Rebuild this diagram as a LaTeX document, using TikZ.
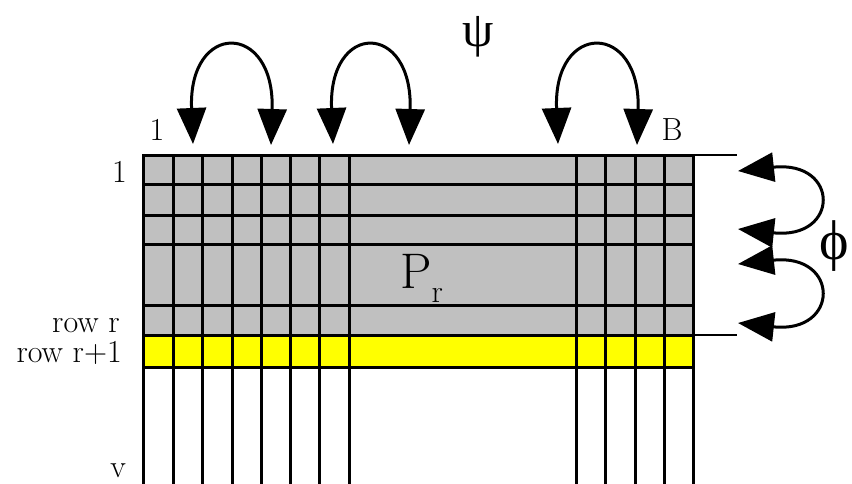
\documentclass[tikz,border=0pt]{standalone}
\usepackage{fontspec}
\newfontfamily\grk{Liberation Serif}
\usetikzlibrary{arrows.meta}
\definecolor{cellgray}{HTML}{C0C0C0}
\definecolor{rowyellow}{HTML}{FFFF00}
\tikzset{
  gridline/.style={line width=3pt, line cap=rect},
  extline/.style={line width=2pt},
  swaparrow/.style={line width=3pt, {Triangle[length=36pt,width=29pt]}-{Triangle[length=36pt,width=29pt]}},
  lab/.style={font=\fontsize{32}{38}\selectfont, inner sep=0pt},
  greek/.style={font=\grk\fontsize{50}{56}\selectfont, inner sep=0pt}
}
\begin{document}
\begin{tikzpicture}[x=1pt,y=-1pt]
\useasboundingbox (0,0) rectangle (852,483);
% fills
\fill[cellgray] (143.5,155) rectangle (693.5,335);
\fill[rowyellow] (143.5,335) rectangle (693.5,367);
% horizontal lines
\foreach \yy in {155,184.5,215,244.5,305.5,335,367}
  \draw[gridline] (143.5,\yy) -- (693.5,\yy);
% vertical lines
\foreach \xx in {143.5,173,202.5,232,261,290,319.5,349,576,605.5,635,664.5,693.5}
  \draw[gridline] (\xx,155) -- (\xx,490);
% extension lines
\coordinate (e1a) at (693.5,155);
\coordinate (e1b) at (737,155);
\coordinate (e2a) at (693.5,335);
\coordinate (e2b) at (737,335);
\draw[extline] (e1a) -- (e1b);
\draw[extline] (e2a) -- (e2b);
% psi swap arrows
\coordinate (p1l) at (193,144);
\coordinate (p1r) at (271,145);
\coordinate (p2l) at (333,144);
\coordinate (p2r) at (409,145);
\coordinate (p3l) at (558,144);
\coordinate (p3r) at (637,145);
\draw[swaparrow] (p1l) .. controls (188,21) and (275,21) .. (p1r);
\draw[swaparrow] (p2l) .. controls (328,21) and (413,21) .. (p2r);
\draw[swaparrow] (p3l) .. controls (553,21) and (641,21) .. (p3r);
% phi swap arrows
\coordinate (f1t) at (738,171);
\coordinate (f1b) at (738,229);
\coordinate (f2t) at (738,264);
\coordinate (f2b) at (738,323);
\draw[swaparrow] (f1t) .. controls (840,160) and (840,240) .. (f1b);
\draw[swaparrow] (f2t) .. controls (840,253) and (840,334) .. (f2b);
% labels
\node[greek] (psi) at (478,37) {ψ};
\node[greek, font=\grk\fontsize{56}{60}\selectfont] (phi) at (834,246) {ϕ};
\node[lab, anchor=base] (top1) at (157,140) {1};
\node[lab, anchor=base] (topB) at (672,140) {B};
\node[lab, anchor=base east] (left1) at (127,182) {1};
\node[lab, anchor=base east] (rowr) at (120,332) {row r};
\node[lab, anchor=base east] (rowr1) at (122,362) {row r+1};
\node[lab, anchor=base east] (v) at (126,477) {v};
\node[inner sep=0pt, anchor=base west, font=\fontsize{50}{54}\selectfont] (Pr) at (400,288) {P\raisebox{-0.28em}{\fontsize{32}{32}\selectfont r}};
\end{tikzpicture}
\end{document}
